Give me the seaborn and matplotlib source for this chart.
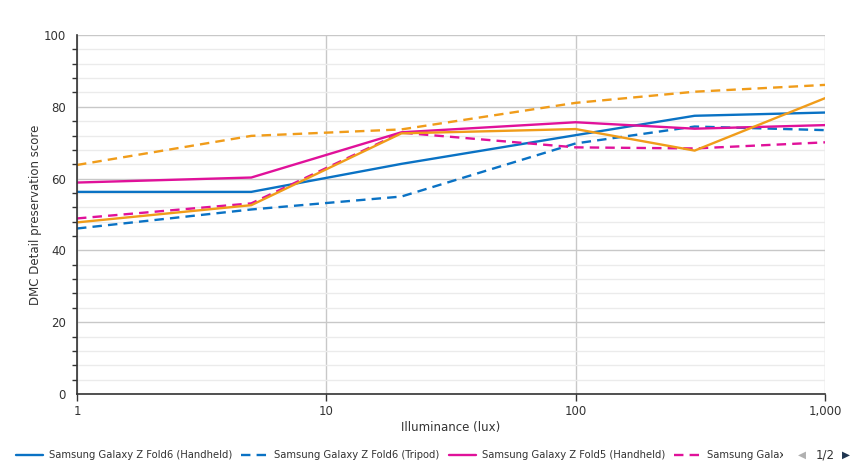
import numpy as np
import pandas as pd
import matplotlib.pyplot as plt
import seaborn as sns
from matplotlib.ticker import FixedLocator, MultipleLocator, FuncFormatter
from matplotlib.transforms import Bbox

# Data (illuminance in lux vs score)
lux = [1, 5, 20, 100, 300, 1000]

devices = [
    "Samsung Galaxy Z Fold6 (Handheld)",
    "Samsung Galaxy Z Fold6 (Tripod)",
    "Samsung Galaxy Z Fold5 (Handheld)",
    "Samsung Galaxy Z Fold5 (Tripod)",
    "Reference device (Handheld)",
    "Reference device (Tripod)",
]

fold6_handheld = [56.3, 56.3, 64.1, 72.1, 77.5, 78.4]
fold6_tripod = [46.1, 51.4, 55.0, 69.8, 74.5, 73.5]
fold5_handheld = [58.9, 60.3, 72.9, 75.7, 73.9, 74.9]
fold5_tripod = [48.9, 53.1, 72.8, 68.7, 68.4, 70.1]
other_handheld = [47.8, 52.6, 72.6, 73.8, 67.8, 82.4]
other_tripod = [63.8, 71.9, 73.7, 81.1, 84.2, 86.1]

series = [fold6_handheld, fold6_tripod, fold5_handheld,
          fold5_tripod, other_handheld, other_tripod]

colors = ["#0a72c4", "#0a72c4", "#e0119a", "#e0119a", "#f09c1a", "#f09c1a"]
solid = ""
dash = (4, 2.6)
dash_styles = [solid, dash, solid, dash, solid, dash]

rows = []
for name, vals in zip(devices, series):
    for x, v in zip(lux, vals):
        rows.append({"lux": x, "score": v, "device": name})
df = pd.DataFrame(rows)

sns.set_style("white")
plt.rcParams["font.family"] = ["DejaVu Sans"]

fig = plt.figure(figsize=(8.61, 4.75), dpi=100)
ax = fig.add_axes([77 / 861, 1 - 394 / 475, (825 - 77) / 861, (394 - 35) / 475])

sns.lineplot(
    data=df, x="lux", y="score", hue="device", style="device",
    hue_order=devices, style_order=devices,
    palette=dict(zip(devices, colors)),
    dashes=dict(zip(devices, dash_styles)),
    linewidth=1.7, legend=False, ax=ax,
)

ax.set_xscale("log")
ax.set_xlim(1, 1000)
ax.set_ylim(0, 100)

ax.xaxis.set_major_locator(FixedLocator([1, 10, 100, 1000]))
ax.xaxis.set_minor_locator(FixedLocator([]))
ax.xaxis.set_major_formatter(FuncFormatter(lambda v, p: f"{int(v):,}"))
ax.yaxis.set_major_locator(MultipleLocator(20))
ax.yaxis.set_minor_locator(MultipleLocator(4))

ax.grid(True, which="major", color="#c8c8c8", linewidth=1.0)
ax.grid(True, which="minor", axis="y", color="#ebebeb", linewidth=1.0)
ax.set_axisbelow(True)

for side in ["top", "right"]:
    ax.spines[side].set_visible(False)
for side in ["left", "bottom"]:
    ax.spines[side].set_color("#333333")
    ax.spines[side].set_linewidth(1.2)

ax.tick_params(axis="both", which="major", length=5, width=1, color="#333333",
               labelsize=8.5, labelcolor="#333333", pad=3)
ax.tick_params(axis="y", which="minor", length=3.5, width=1, color="#333333", left=True)
ax.tick_params(axis="x", which="major", bottom=True)

ax.set_xlabel("Illuminance (lux)", fontsize=8.5, color="#333333", labelpad=2)
ax.set_ylabel("DMC Detail preservation score", fontsize=8.5, color="#333333", labelpad=2)
ax.yaxis.set_label_coords(-(77 - 42) / 748, 0.5)

# Legend at the bottom (first page of four entries)
handles = ax.lines[:4]
leg = fig.legend(
    handles, devices[:4], loc="center left", bbox_to_anchor=(12 / 861, 1 - 455 / 475),
    ncol=4, frameon=False, fontsize=7.2, handlelength=2.7, handletextpad=0.6,
    columnspacing=0.9, borderaxespad=0, labelcolor="#333333",
)
clip = Bbox.from_extents(0, 0, 783, 475)
for t in leg.get_texts():
    t.set_clip_box(clip)
    t.set_clip_on(True)

# pager
fig.text(806 / 861, 1 - 455 / 475, "\u25C0", fontsize=7.5, color="#b0b0b0", ha="right", va="center")
fig.text(825 / 861, 1 - 455 / 475, "1/2", fontsize=8.5, color="#333333", ha="center", va="center")
fig.text(842 / 861, 1 - 455 / 475, "\u25B6", fontsize=7.5, color="#1f3550", ha="left", va="center")

fig.savefig("out.png", dpi=100)
